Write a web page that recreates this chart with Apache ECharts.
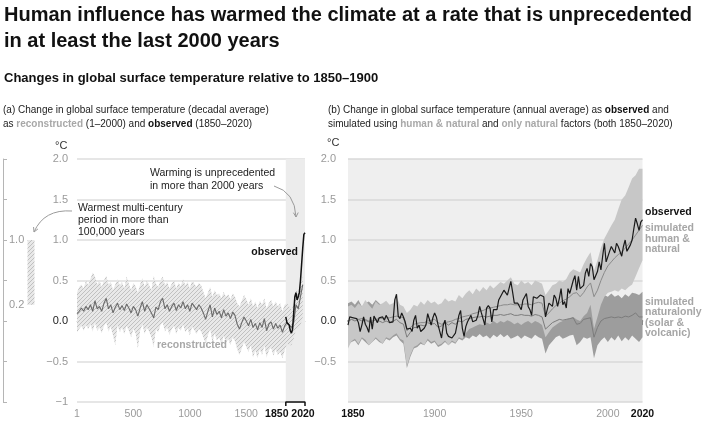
<!DOCTYPE html>
<html><head><meta charset="utf-8">
<script src="https://cdn.jsdelivr.net/npm/echarts@6/dist/echarts.min.js"></script>
<style>html,body{margin:0;padding:0;background:#fff}#c{width:713px;height:421px}</style>
</head><body><div id="c"></div>
<script>
// ---------- Panel (a): reconstructed (20-yr steps) ----------
const reconYears = [1].concat(Array.from({length:100}, (_, i) => 20 * (i + 1)));
const reconMean = [0.09,0.12,0.16,0.12,0.18,0.14,0.2,0.12,0.25,0.15,
0.18,0.12,0.22,0.28,0.15,0.2,0.1,0.17,0.22,0.14,
0.19,0.13,0.21,0.16,0.1,0.18,0.14,0.06,0.16,0.24,
0.12,0.2,0.15,0.1,0.04,0.17,0.14,0.24,0.28,0.15,
0.2,0.12,0.18,0.22,0.13,0.2,0.16,0.24,0.15,0.2,
0.12,0.22,0.18,0.14,0.2,0.16,0.1,0.02,0.12,0.2,
0.05,0.16,0.08,0.12,0.04,0.14,0.06,0.1,0.03,0.11,
0.07,-0.04,-0.1,-0.02,0.05,0.0,-0.06,0.02,-0.08,-0.03,
-0.11,-0.02,-0.08,0.03,-0.12,-0.04,-0.01,-0.1,-0.03,-0.09,
-0.05,-0.14,-0.06,-0.02,-0.05,-0.08,-0.02,0.2,0.15,0.3,0.45];
const reconHigh = [0.35,0.42,0.45,0.4,0.5,0.44,0.52,0.6,0.55,0.45,
0.5,0.42,0.5,0.56,0.45,0.48,0.38,0.45,0.52,0.44,
0.48,0.4,0.55,0.46,0.38,0.47,0.43,0.35,0.45,0.53,
0.42,0.5,0.44,0.38,0.56,0.46,0.42,0.5,0.55,0.44,
0.48,0.4,0.46,0.5,0.4,0.47,0.43,0.52,0.44,0.48,
0.4,0.5,0.46,0.42,0.47,0.44,0.36,0.28,0.35,0.42,
0.3,0.38,0.32,0.34,0.28,0.36,0.3,0.33,0.27,0.34,
0.3,0.22,0.18,0.25,0.32,0.27,0.2,0.28,0.18,0.24,
0.16,0.25,0.2,0.28,0.15,0.22,0.26,0.18,0.24,0.18,
0.22,0.12,0.2,0.22,0.18,0.14,0.2,0.4,0.35,0.45,0.55];
const reconLow = [-0.14,-0.1,-0.06,-0.12,-0.05,-0.1,-0.04,-0.13,-0.02,-0.12,
-0.08,-0.15,-0.06,-0.02,-0.13,-0.07,-0.18,-0.3,-0.05,-0.14,
-0.08,-0.16,-0.06,-0.12,-0.2,-0.1,-0.15,-0.34,-0.12,-0.04,
-0.16,-0.08,-0.13,-0.2,-0.32,-0.1,-0.14,-0.05,-0.02,-0.13,
-0.08,-0.17,-0.1,-0.06,-0.16,-0.08,-0.12,-0.04,-0.14,-0.09,
-0.18,-0.07,-0.11,-0.16,-0.1,-0.13,-0.2,-0.28,-0.18,-0.1,
-0.26,-0.15,-0.24,-0.2,-0.3,-0.18,-0.27,-0.22,-0.3,-0.2,
-0.25,-0.35,-0.42,-0.34,-0.26,-0.32,-0.38,-0.3,-0.45,-0.36,
-0.46,-0.35,-0.42,-0.3,-0.45,-0.36,-0.33,-0.43,-0.35,-0.42,
-0.38,-0.46,-0.36,-0.28,-0.3,-0.3,-0.22,-0.1,-0.1,-0.05,0.05];
// observed decadal (panel a)
const obsDecYears = [1850,1860,1870,1880,1890,1900,1910,1920,1930,1940,1950,1960,1970,1980,1990,2000,2010,2020];
const obsDecadal = [0.05,-0.02,0.0,-0.05,-0.12,-0.15,-0.1,0.1,0.3,0.35,0.26,0.3,0.35,0.5,0.7,0.9,1.07,1.09];
const modernPeriod = [1850, 2020];
const warmestPeriod = [0.2, 1.0];
const panelATicks = [1, 500, 1000, 1500, 1850, 2020];

// ---------- Panel (b): annual observed 1850-2020 ----------
const obsYears = Array.from({length:171}, (_, i) => 1850 + i);
const obsAnnual = [-0.05,0.05,0.07,0.04,0.03,0.03,-0.02,-0.13,-0.05,0.05,
-0.04,-0.08,-0.14,0.05,-0.10,0.06,0.07,-0.02,0.04,0.05,
0.05,0.01,0.07,0.03,-0.02,-0.03,-0.01,0.26,0.33,0.06,
0.03,0.10,0.05,-0.01,-0.10,-0.12,-0.09,-0.13,0.01,0.07,
-0.09,-0.05,-0.13,-0.15,-0.09,-0.05,0.09,0.11,-0.05,0.04,
0.10,0.05,-0.05,-0.13,-0.21,-0.05,0.01,-0.15,-0.19,-0.21,
-0.21,-0.19,-0.15,-0.13,0.07,0.13,-0.09,-0.19,-0.07,-0.01,
0.01,0.07,-0.01,0.01,0.01,0.07,0.18,0.10,0.10,-0.05,
0.16,0.19,0.16,-0.01,0.14,0.12,0.14,0.26,0.30,0.28,
0.38,0.36,0.32,0.34,0.49,0.36,0.22,0.22,0.22,0.20,
0.14,0.26,0.30,0.34,0.18,0.14,0.07,0.30,0.32,0.28,
0.26,0.32,0.30,0.30,0.05,0.14,0.22,0.22,0.18,0.32,
0.28,0.18,0.28,0.40,0.20,0.24,0.16,0.40,0.34,0.42,
0.50,0.56,0.38,0.55,0.40,0.38,0.44,0.59,0.65,0.55,
0.71,0.67,0.51,0.53,0.61,0.73,0.63,0.80,0.96,0.73,
0.71,0.86,0.92,0.92,0.84,0.96,0.92,0.92,0.80,0.92,
1.00,0.86,0.90,0.94,1.00,1.14,1.27,1.20,1.12,1.22,
1.25];
// simulated (2-yr steps)
const simYears = Array.from({length:86}, (_, i) => 1850 + 2 * i);
const humanMean = [0.0,0.02,0.03,0.02,0.03,0.02,0.0,0.0,0.02,0.03,
0.03,0.04,0.04,0.05,0.06,0.05,0.04,-0.12,-0.08,-0.04,
-0.03,-0.02,-0.02,0.0,0.01,0.02,-0.02,-0.04,-0.02,-0.01,
0.0,0.02,0.03,0.05,0.06,0.07,0.09,0.1,0.12,0.13,
0.15,0.16,0.17,0.18,0.19,0.2,0.2,0.21,0.2,0.2,
0.2,0.21,0.21,0.2,0.22,0.23,0.22,0.06,0.1,0.15,
0.19,0.22,0.25,0.27,0.3,0.34,0.35,0.3,0.35,0.42,
0.47,0.3,0.38,0.5,0.6,0.68,0.73,0.78,0.82,0.85,
0.9,0.95,1.0,1.06,1.12,1.18];
const humanHigh = [0.18,0.2,0.16,0.22,0.18,0.26,0.2,0.15,0.24,0.2,
0.22,0.25,0.2,0.22,0.3,0.2,0.18,0.1,0.14,0.2,
0.18,0.24,0.2,0.26,0.22,0.24,0.2,0.22,0.28,0.24,
0.26,0.24,0.32,0.28,0.34,0.38,0.33,0.4,0.36,0.42,
0.38,0.44,0.4,0.44,0.48,0.46,0.5,0.54,0.46,0.44,
0.5,0.46,0.48,0.44,0.5,0.48,0.46,0.32,0.38,0.44,
0.46,0.5,0.48,0.52,0.6,0.64,0.62,0.6,0.7,0.78,
0.85,0.62,0.75,0.9,1.02,1.1,1.18,1.25,1.38,1.5,
1.55,1.65,1.76,1.8,1.88,1.88];
const humanLow = [-0.34,-0.25,-0.22,-0.28,-0.2,-0.23,-0.3,-0.26,-0.2,-0.24,
-0.28,-0.2,-0.22,-0.18,-0.15,-0.22,-0.24,-0.56,-0.42,-0.32,
-0.3,-0.26,-0.3,-0.22,-0.26,-0.24,-0.3,-0.28,-0.24,-0.3,
-0.24,-0.27,-0.2,-0.22,-0.15,-0.1,-0.08,-0.06,-0.04,-0.05,
-0.02,-0.04,0.0,-0.03,0.0,-0.02,0.01,-0.01,-0.04,-0.02,
-0.05,-0.02,0.0,-0.03,0.0,-0.02,-0.05,-0.2,-0.14,-0.08,
-0.05,-0.02,0.0,0.02,0.03,0.05,0.02,0.0,0.06,0.1,
0.2,-0.1,0.05,0.2,0.3,0.35,0.36,0.38,0.36,0.4,
0.38,0.42,0.45,0.55,0.65,0.75];
const naturalMean = [0.0,0.02,0.0,0.02,0.0,0.01,-0.01,-0.02,0.02,0.0,
-0.02,0.0,-0.02,0.0,0.02,-0.02,-0.04,-0.2,-0.14,-0.08,
-0.08,-0.05,-0.06,-0.02,-0.04,-0.03,-0.08,-0.06,-0.02,-0.05,
-0.02,-0.04,0.0,-0.01,0.02,0.03,0.04,0.05,0.05,0.06,
0.05,0.06,0.07,0.07,0.08,0.07,0.08,0.09,0.07,0.07,
0.08,0.07,0.07,0.06,0.08,0.07,0.05,-0.1,-0.06,-0.02,
0.0,0.02,0.01,0.02,0.03,0.04,-0.04,-0.03,0.02,0.03,
0.04,-0.2,-0.08,0.0,0.03,0.04,0.05,0.04,0.05,0.04,
0.06,0.05,0.07,0.1,0.05,0.05];
const naturalHigh = [0.22,0.24,0.2,0.26,0.18,0.22,0.24,0.2,0.26,0.22,
0.18,0.2,0.16,0.18,0.22,0.16,0.12,0.05,0.1,0.14,
0.14,0.18,0.16,0.2,0.18,0.2,0.16,0.18,0.22,0.2,
0.22,0.2,0.24,0.22,0.24,0.26,0.24,0.28,0.26,0.3,
0.26,0.3,0.28,0.3,0.32,0.3,0.32,0.34,0.3,0.28,
0.32,0.3,0.3,0.28,0.32,0.3,0.28,0.12,0.18,0.24,
0.26,0.28,0.26,0.28,0.3,0.32,0.24,0.22,0.28,0.3,
0.32,0.1,0.2,0.28,0.32,0.3,0.34,0.3,0.32,0.28,
0.33,0.3,0.35,0.34,0.32,0.36];
const naturalLow = [-0.3,-0.26,-0.24,-0.3,-0.22,-0.26,-0.3,-0.26,-0.22,-0.26,
-0.28,-0.22,-0.24,-0.2,-0.18,-0.24,-0.28,-0.58,-0.44,-0.34,
-0.32,-0.28,-0.3,-0.24,-0.28,-0.26,-0.32,-0.3,-0.26,-0.3,
-0.26,-0.28,-0.22,-0.24,-0.2,-0.22,-0.18,-0.2,-0.16,-0.2,
-0.18,-0.22,-0.17,-0.2,-0.16,-0.2,-0.17,-0.22,-0.2,-0.18,
-0.22,-0.18,-0.2,-0.22,-0.17,-0.2,-0.22,-0.4,-0.3,-0.25,
-0.2,-0.18,-0.22,-0.2,-0.18,-0.17,-0.3,-0.26,-0.2,-0.22,
-0.2,-0.46,-0.3,-0.24,-0.2,-0.26,-0.2,-0.24,-0.18,-0.25,
-0.2,-0.24,-0.18,-0.22,-0.26,-0.2];
const panelBLabels = [1850, 1900, 1950, 2000, 2020];

// ---------- helpers ----------
const FONT = "'Liberation Sans', Arial, Helvetica, sans-serif";
function hatch(bg, fg) {
  const c = document.createElement('canvas'); c.width = 4; c.height = 4;
  const g = c.getContext('2d');
  g.fillStyle = bg; g.fillRect(0, 0, 4, 4);
  g.strokeStyle = fg; g.lineWidth = 1;
  g.beginPath();
  g.moveTo(-1, 1); g.lineTo(1, -1);
  g.moveTo(0, 4); g.lineTo(4, 0);
  g.moveTo(3, 5); g.lineTo(5, 3);
  g.stroke();
  return {image: c, repeat: 'repeat'};
}
const hatchFill = hatch('#e8e8e8', '#c0c0c0');
const pairs = (xs, ys) => xs.map((x, i) => [x, ys[i]]);
// band polygon drawn through the axes' scales (api.coord)
function band(xs, lo, hi, xi, yi, fill, z) {
  return {type:'custom', xAxisIndex:xi, yAxisIndex:yi, z, silent:true, clip:true,
    data: xs.map((x, i) => [x, lo[i], hi[i]]),
    encode:{x:0, y:[1, 2]},
    renderItem:(params, api) => {
      if (params.dataIndex !== 0) return null;
      const pts = [];
      for (let i = 0; i < xs.length; i++) pts.push(api.coord([xs[i], hi[i]]));
      for (let i = xs.length - 1; i >= 0; i--) pts.push(api.coord([xs[i], lo[i]]));
      return {type:'polygon', shape:{points:pts}, style:{fill, stroke:null}};
    }};
}
function yLabel(hideMin) {
  return v => {
    if (Math.abs(v) < 1e-9) return '{z|0.0}';
    if (v === -1) return hideMin ? '' : '\u22121';
    return v < 0 ? '\u2212' + Math.abs(v).toFixed(1) : v.toFixed(1);
  };
}
function arrow(x1, y1, cx, cy, x2, y2) {
  const ang = Math.atan2(y2 - cy, x2 - cx), L = 5, a = 0.5;
  const st = {stroke:'#9a9a9a', lineWidth:1, fill:null};
  return [
    {type:'bezierCurve', z:100, shape:{x1, y1, x2, y2, cpx1:cx, cpy1:cy}, style:st},
    {type:'polyline', z:100, shape:{points:[[x2 - L*Math.cos(ang - a), y2 - L*Math.sin(ang - a)], [x2, y2],
      [x2 - L*Math.cos(ang + a), y2 - L*Math.sin(ang + a)]]}, style:st}
  ];
}
function txt(x, y, text, size, weight, fill, align) {
  return {type:'text', z:100, x, y, style:{text, fontSize:size, fontWeight:weight,
    fontFamily:FONT, fill, verticalAlign:'middle', textVerticalAlign:'middle', align:align || 'left', textAlign:align || 'left'}};
}
function rtxt(x, y, text, size, rich) {
  return {type:'text', z:100, x, y, style:{text, fontSize:size, fontFamily:FONT, fill:'#222',
    verticalAlign:'middle', textVerticalAlign:'middle', rich}};
}

const chart = echarts.init(document.getElementById('c'), null, {renderer:'canvas'});
const gray = '#a6a6a6';
const option = {
  animation:false,
  textStyle:{fontFamily:FONT},
  grid:[
    {left:77, top:159, width:228, height:243, containLabel:false},
    {left:348, top:159, width:294.5, height:243, show:true, backgroundColor:'#efefef', borderWidth:0},
    {left:3, top:159, width:56, height:243}
  ],
  xAxis:[
    {type:'value', gridIndex:0, min:1, max:2020,
     axisLine:{lineStyle:{color:'#c4c4c4', width:1}},
     axisTick:{inside:true, length:4, lineStyle:{color:'#bbb'}, customValues:[1,500,1000,1500]},
     splitLine:{show:false},
     axisLabel:{customValues:panelATicks, showMinLabel:true, showMaxLabel:true, margin:7, fontSize:10.5, color:'#9a9a9a',
       formatter:v => v === 1850 ? '{a|1850}' : v === 2020 ? '{b|2020}' : String(v),
       rich:{a:{fontWeight:'bold', color:'#111', fontSize:10.5, padding:[0,18,0,0]},
             b:{fontWeight:'bold', color:'#111', fontSize:10.5, padding:[0,4,0,0]}}}},
    {type:'value', gridIndex:1, min:1850, max:2020, interval:10,
     axisLine:{lineStyle:{color:'#555', width:1.5}},
     axisTick:{length:4, lineStyle:{color:'#777'}},
     splitLine:{show:false},
     axisLabel:{showMinLabel:true, showMaxLabel:true, margin:7, fontSize:10.5, color:'#9a9a9a',
       formatter:v => v === 1850 ? '{a|1850}' : v === 2020 ? '{b|2020}' : (panelBLabels.indexOf(v) >= 0 ? String(v) : ''),
       rich:{a:{fontWeight:'bold', color:'#111', fontSize:10.5, padding:[0,0,0,10]},
             b:{fontWeight:'bold', color:'#111', fontSize:10.5}}}},
    {type:'category', gridIndex:2, data:['w'], show:false}
  ],
  yAxis:[
    {type:'value', gridIndex:0, min:-1, max:2, interval:0.5,
     axisLine:{show:false}, axisTick:{show:false},
     splitLine:{lineStyle:{color:'#dedede', width:1.5}},
     axisLabel:{margin:9, fontSize:11, color:'#9a9a9a', formatter:yLabel(false), rich:{z:{color:'#222', fontSize:11}}}},
    {type:'value', gridIndex:1, min:-1, max:2, interval:0.5,
     axisLine:{show:false}, axisTick:{show:false},
     splitLine:{lineStyle:{color:'#d8d8d8', width:1.5}},
     axisLabel:{margin:12, fontSize:11, color:'#9a9a9a', formatter:yLabel(true), rich:{z:{color:'#222', fontSize:11}}}},
    {type:'value', gridIndex:2, min:-1, max:2, interval:0.5, position:'left',
     axisLine:{show:true, lineStyle:{color:'#b5b5b5'}},
     axisTick:{show:true, inside:true, length:4, lineStyle:{color:'#b5b5b5'}},
     splitLine:{show:false},
     axisLabel:{customValues:warmestPeriod, inside:true, margin:6, fontSize:11, color:'#9a9a9a',
       formatter:v => v.toFixed(1)}}
  ],
  series:[
    // panel (a) shaded modern period
    {type:'line', xAxisIndex:0, yAxisIndex:0, data:[], z:1, silent:true,
     markArea:{silent:true, itemStyle:{color:'#ececec'}, data:[[{xAxis:modernPeriod[0]}, {xAxis:modernPeriod[1]}]]}},
    band(reconYears, reconLow, reconHigh, 0, 0, hatchFill, 2),
    {type:'line', xAxisIndex:0, yAxisIndex:0, data:pairs(reconYears, reconMean), symbol:'none',
     lineStyle:{color:'#6a6a6a', width:1.1}, z:3, silent:true},
    {type:'line', xAxisIndex:0, yAxisIndex:0, data:pairs(obsDecYears, obsDecadal), symbol:'none',
     lineStyle:{color:'#111', width:1.5}, z:4, silent:true},
    // bracket on the axis for 1850-2020
    {type:'line', xAxisIndex:0, yAxisIndex:0, clip:false, symbol:'none', silent:true, z:5,
     data:[[modernPeriod[0], -1.05], [modernPeriod[0], -1], [modernPeriod[1], -1], [modernPeriod[1], -1.05]],
     lineStyle:{color:'#111', width:1.5}},
    // inset bar
    {type:'bar', xAxisIndex:2, yAxisIndex:2, stack:'w', data:[warmestPeriod[0]], barWidth:7,
     itemStyle:{color:'rgba(0,0,0,0)'}, silent:true},
    {type:'bar', xAxisIndex:2, yAxisIndex:2, stack:'w', data:[warmestPeriod[1] - warmestPeriod[0]], barWidth:7,
     itemStyle:{color:hatchFill}, silent:true},
    // panel (b)
    band(simYears, naturalLow, naturalHigh, 1, 1, '#9d9d9d', 2),
    band(simYears, humanLow, humanHigh, 1, 1, '#c7c7c7', 3),
    {type:'line', xAxisIndex:1, yAxisIndex:1, data:pairs(simYears, naturalMean), symbol:'none',
     lineStyle:{color:'#7c7c7c', width:1}, z:4, silent:true},
    {type:'line', xAxisIndex:1, yAxisIndex:1, data:pairs(simYears, humanMean), symbol:'none',
     lineStyle:{color:'#8a8a8a', width:1}, z:4, silent:true},
    {type:'line', xAxisIndex:1, yAxisIndex:1, data:pairs(obsYears, obsAnnual), symbol:'none',
     lineStyle:{color:'#1a1a1a', width:1.2}, z:5, silent:true}
  ],
  graphic:[
    txt(4, 15, 'Human influence has warmed the climate at a rate that is unprecedented', 20, 'bold', '#111'),
    txt(4, 41, 'in at least the last 2000 years', 20, 'bold', '#111'),
    txt(4, 78, 'Changes in global surface temperature relative to 1850\u20131900', 13, 'bold', '#111'),
    txt(3, 110, '(a) Change in global surface temperature (decadal average)', 10, 'normal', '#222'),
    rtxt(3, 124, 'as {g|reconstructed} (1\u20132000) and {b|observed} (1850\u20132020)', 10,
      {g:{fill:'#a8a8a8', fontWeight:'bold', fontSize:10, fontFamily:FONT}, b:{fill:'#111', fontWeight:'bold', fontSize:10, fontFamily:FONT}}),
    rtxt(328, 110, '(b) Change in global surface temperature (annual average) as {b|observed} and', 10,
      {b:{fill:'#111', fontWeight:'bold', fontSize:10, fontFamily:FONT}}),
    rtxt(328, 124, 'simulated using {g|human & natural} and {g|only natural} factors (both 1850\u20132020)', 10,
      {g:{fill:'#a8a8a8', fontWeight:'bold', fontSize:10, fontFamily:FONT}}),
    txt(55, 146, '\u00b0C', 11, 'normal', '#333'),
    txt(327, 143, '\u00b0C', 11, 'normal', '#333'),
    txt(150, 173, 'Warming is unprecedented', 10.5, 'normal', '#222'),
    txt(150, 186, 'in more than 2000 years', 10.5, 'normal', '#222'),
    txt(78, 208, 'Warmest multi-century', 10.5, 'normal', '#222'),
    txt(78, 220, 'period in more than', 10.5, 'normal', '#222'),
    txt(78, 232, '100,000 years', 10.5, 'normal', '#222'),
    ...arrow(274, 186, 295, 192, 296, 217),
    ...arrow(72, 211, 44, 209, 34, 232),
    txt(298, 252, 'observed', 10.5, 'bold', '#111', 'right'),
    txt(157, 345, 'reconstructed', 10.5, 'bold', '#a8a8a8'),
    txt(645, 212, 'observed', 10.5, 'bold', '#111'),
    txt(645, 228, 'simulated', 10.5, 'bold', gray),
    txt(645, 239, 'human &', 10.5, 'bold', gray),
    txt(645, 249.5, 'natural', 10.5, 'bold', gray),
    txt(645, 302, 'simulated', 10.5, 'bold', gray),
    txt(645, 312.5, 'naturalonly', 10.5, 'bold', gray),
    txt(645, 323, '(solar &', 10.5, 'bold', gray),
    txt(645, 333.5, 'volcanic)', 10.5, 'bold', gray)
  ]
};
chart.setOption(option);
</script></body></html>
